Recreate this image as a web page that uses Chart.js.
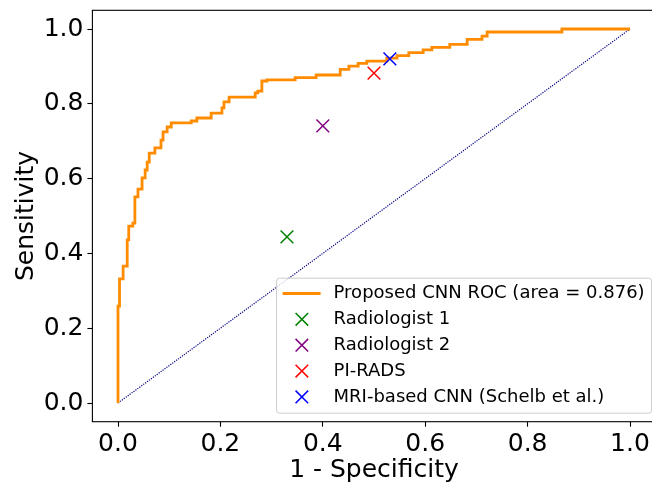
<!DOCTYPE html>
<html>
<head>
<meta charset="utf-8">
<script src="https://cdn.jsdelivr.net/npm/chart.js@4.4.0/dist/chart.umd.min.js"></script>
<style>
  html, body { margin: 0; padding: 0; background: #fff; overflow: hidden; }
  #wrap { width: 652px; height: 485px; overflow: hidden; }
  #wrap div { width: 664px; height: 485px; }
</style>
</head>
<body>
<div id="wrap"><div><canvas id="roc"></canvas></div></div>
<script>
// courbe ROC (coins de l'escalier)
const rocFpr = [0, 0, 0.003, 0.003, 0.010, 0.010, 0.018, 0.018, 0.021, 0.021, 0.029, 0.029, 0.033, 0.033,
  0.039, 0.039, 0.047, 0.047, 0.053, 0.053, 0.057, 0.057, 0.061, 0.061, 0.072, 0.072, 0.084, 0.084,
  0.088, 0.088, 0.096, 0.096, 0.104, 0.104, 0.143, 0.143, 0.154, 0.154, 0.182, 0.182, 0.203, 0.203,
  0.207, 0.207, 0.217, 0.217, 0.268, 0.268, 0.273, 0.273, 0.281, 0.281, 0.291, 0.291, 0.346, 0.346,
  0.387, 0.387, 0.434, 0.434, 0.451, 0.451, 0.469, 0.469, 0.486, 0.486, 0.525, 0.525, 0.545, 0.545,
  0.568, 0.568, 0.596, 0.596, 0.613, 0.613, 0.648, 0.648, 0.682, 0.682, 0.711, 0.711, 0.721, 0.721,
  0.867, 0.867, 1.0];
const rocTpr = [0, 0.259, 0.259, 0.332, 0.332, 0.366, 0.366, 0.436, 0.436, 0.473, 0.473, 0.481, 0.481, 0.551,
  0.551, 0.572, 0.572, 0.602, 0.602, 0.623, 0.623, 0.644, 0.644, 0.668, 0.668, 0.682, 0.682, 0.703,
  0.703, 0.725, 0.725, 0.738, 0.738, 0.749, 0.749, 0.754, 0.754, 0.762, 0.762, 0.775, 0.775, 0.789,
  0.789, 0.805, 0.805, 0.818, 0.818, 0.829, 0.829, 0.834, 0.834, 0.861, 0.861, 0.864, 0.864, 0.870,
  0.870, 0.877, 0.877, 0.892, 0.892, 0.901, 0.901, 0.908, 0.908, 0.914, 0.914, 0.922, 0.922, 0.929,
  0.929, 0.937, 0.937, 0.944, 0.944, 0.951, 0.951, 0.959, 0.959, 0.972, 0.972, 0.981, 0.981, 0.992,
  0.992, 1.0, 1.0];

// diagonale (hasard)
const chanceX = [0, 1];
const chanceY = [0, 1];

// points de comparaison
const pointLabels = ['Radiologist 1', 'Radiologist 2', 'PI-RADS', 'MRI-based CNN (Schelb et al.)'];
const pointFpr = [0.33, 0.40, 0.50, 0.531];
const pointTpr = [0.444, 0.741, 0.882, 0.920];
const pointColors = ['green', 'purple', 'red', 'blue'];

const rocLabel = 'Proposed CNN ROC (area = 0.876)';
const tickValues = [0, 0.2, 0.4, 0.6, 0.8, 1.0];

Chart.defaults.font.family = '"DejaVu Sans", sans-serif';
Chart.defaults.color = '#000';

const toXY = (xs, ys) => xs.map((x, i) => ({x: x, y: ys[i]}));

const datasets = [];
pointLabels.forEach((lab, i) => {
  datasets.push({
    label: lab,
    data: [{x: pointFpr[i], y: pointTpr[i]}],
    pointStyle: 'crossRot',
    pointRadius: 9,
    pointBorderWidth: 1.5,
    borderColor: pointColors[i],
    backgroundColor: pointColors[i],
    showLine: false,
    order: 0
  });
});
datasets.push({
  label: rocLabel,
  data: toXY(rocFpr, rocTpr),
  borderColor: '#ff8c00',
  borderWidth: 2.8,
  pointRadius: 0,
  showLine: true,
  tension: 0,
  order: 1
});
datasets.push({
  label: 'chance',
  data: toXY(chanceX, chanceY),
  borderColor: '#000080',
  borderWidth: 1.2,
  borderDash: [1.2, 1.2],
  pointRadius: 0,
  showLine: true,
  order: 2
});

// cadre + légende à la matplotlib
const frameAndLegend = {
  id: 'frameAndLegend',
  afterDraw(chart) {
    const ctx = chart.ctx;
    const a = chart.chartArea;
    ctx.save();
    ctx.strokeStyle = '#000';
    ctx.lineWidth = 1.1;
    ctx.strokeRect(a.left, a.top, a.right - a.left, a.bottom - a.top);

    ctx.font = '18px "DejaVu Sans"';
    const labels = [rocLabel].concat(pointLabels);
    const w = Math.max(...labels.map(t => ctx.measureText(t).width));
    const right = a.right - 4;
    const bottom = a.bottom - 8.5;
    const boxW = 57 + w + 7;
    const boxH = 135;
    const left = right - boxW;
    const top = bottom - boxH;

    ctx.beginPath();
    ctx.roundRect(left, top, boxW, boxH, 3);
    ctx.fillStyle = 'rgba(255,255,255,0.8)';
    ctx.fill();
    ctx.strokeStyle = '#cccccc';
    ctx.lineWidth = 1;
    ctx.stroke();

    ctx.textBaseline = 'middle';
    ctx.textAlign = 'left';
    labels.forEach((t, i) => {
      const y = top + 15.3 + i * 25.85;
      if (i === 0) {
        ctx.strokeStyle = '#ff8c00';
        ctx.lineWidth = 2.8;
        ctx.beginPath();
        ctx.moveTo(left + 6, y);
        ctx.lineTo(left + 44, y);
        ctx.stroke();
      } else {
        const cx = left + 25.3, d = 6.3;
        ctx.strokeStyle = pointColors[i - 1];
        ctx.lineWidth = 1.5;
        ctx.beginPath();
        ctx.moveTo(cx - d, y - d); ctx.lineTo(cx + d, y + d);
        ctx.moveTo(cx - d, y + d); ctx.lineTo(cx + d, y - d);
        ctx.stroke();
      }
      ctx.fillStyle = '#000';
      ctx.fillText(t, left + 57, y);
    });
    ctx.restore();
  }
};

new Chart(document.getElementById('roc'), {
  type: 'scatter',
  data: { datasets: datasets },
  options: {
    responsive: true,
    maintainAspectRatio: false,
    animation: false,
    layout: { autoPadding: false, padding: { top: 10.3, right: 8.4, left: 0, bottom: 0 } },
    plugins: { legend: { display: false }, tooltip: { enabled: false } },
    scales: {
      x: {
        type: 'linear',
        min: -0.05,
        max: 1.05,
        afterBuildTicks: s => { s.ticks = tickValues.map(v => ({value: v})); },
        afterFit: s => { s.height = 63.3; s.paddingLeft = 0; s.paddingRight = 0; },
        grid: { drawOnChartArea: false, drawTicks: true, tickLength: 5, color: '#000', tickWidth: 1.1 },
        border: { display: false },
        ticks: { font: { size: 25 }, padding: 3, maxRotation: 0, callback: v => v.toFixed(1) },
        title: { display: true, text: '1 - Specificity', font: { size: 25 }, padding: { top: 0, bottom: 0 } }
      },
      y: {
        type: 'linear',
        min: -0.05,
        max: 1.05,
        afterBuildTicks: s => { s.ticks = tickValues.map(v => ({value: v})); },
        afterFit: s => { s.width = 92.4; s.paddingTop = 0; s.paddingBottom = 0; },
        grid: { drawOnChartArea: false, drawTicks: true, tickLength: 5, color: '#000', tickWidth: 1.1 },
        border: { display: false },
        ticks: { font: { size: 25 }, padding: 4, callback: v => v.toFixed(1) },
        title: { display: true, text: 'Sensitivity', font: { size: 25 }, padding: { top: 11, bottom: 0 } }
      }
    }
  },
  plugins: [frameAndLegend]
});
</script>
</body>
</html>
